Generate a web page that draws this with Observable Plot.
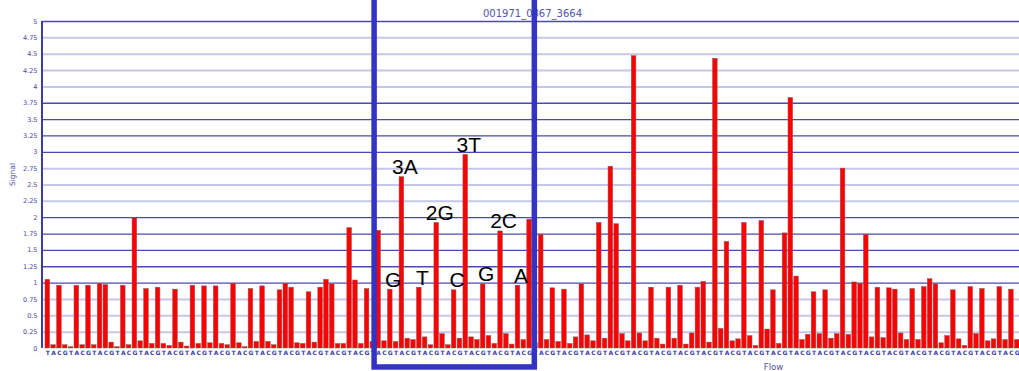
<!DOCTYPE html>
<html>
<head>
<meta charset="utf-8">
<script src="https://cdn.jsdelivr.net/npm/d3@7"></script>
<script src="https://cdn.jsdelivr.net/npm/@observablehq/plot@0.6"></script>
<style>
  html, body { margin: 0; padding: 0; background: #fff; overflow: hidden; }
</style>
</head>
<body>
<div id="chart"></div>
<script>
// Flowgram of one pyrosequencing read: one bar per nucleotide flow.
const readId = "001971_0867_3664";
const flowOrder = ["T", "A", "C", "G"];

// Signal per flow, flows 1..168
const signal = [
  1.05, 0.05, 0.96, 0.05, 0.02, 0.96, 0.05, 0.96, 0.05, 0.99, 0.97, 0.09,
  0.02, 0.96, 0.05, 1.99, 0.11, 0.91, 0.07, 0.93, 0.07, 0.04, 0.90, 0.09,
  0.03, 0.96, 0.07, 0.95, 0.08, 0.95, 0.07, 0.05, 0.99, 0.08, 0.02, 0.91,
  0.10, 0.95, 0.10, 0.05, 0.89, 0.99, 0.93, 0.08, 0.07, 0.86, 0.09, 0.93,
  1.05, 0.98, 0.07, 0.07, 1.84, 1.04, 0.07, 0.91, 0.10, 1.80, 0.11, 0.90,
  0.10, 2.62, 0.15, 0.13, 0.93, 0.17, 0.05, 1.92, 0.22, 0.05, 0.89, 0.15,
  2.96, 0.17, 0.13, 0.98, 0.19, 0.07, 1.79, 0.22, 0.06, 0.96, 0.13, 1.97,
  0.08, 1.74, 0.13, 0.92, 0.10, 0.90, 0.07, 0.17, 0.98, 0.20, 0.11, 1.92,
  0.15, 2.78, 1.90, 0.22, 0.11, 4.47, 0.23, 0.11, 0.93, 0.15, 0.06, 0.93,
  0.15, 0.96, 0.06, 0.23, 0.93, 1.02, 0.09, 4.43, 0.30, 1.63, 0.11, 0.14,
  1.92, 0.19, 0.04, 1.95, 0.29, 0.89, 0.07, 1.76, 3.83, 1.10, 0.13, 0.21,
  0.86, 0.22, 0.89, 0.15, 0.22, 2.75, 0.21, 1.01, 0.99, 1.74, 0.17, 0.93,
  0.16, 0.92, 0.90, 0.23, 0.13, 0.91, 0.13, 0.94, 1.06, 0.98, 0.08, 0.19,
  0.89, 0.14, 0.04, 0.94, 0.22, 0.91, 0.11, 0.14, 0.94, 0.13, 0.90, 0.13
];

// Y-axis tick values and the two grid-line groups
const yTicks = [0, 0.25, 0.5, 0.75, 1, 1.25, 1.5, 1.75, 2, 2.25, 2.5, 2.75,
                3, 3.25, 3.5, 3.75, 4, 4.25, 4.5, 4.75, 5];
const gridStrong = [1, 1.25, 1.5, 1.75, 2, 3, 3.25, 3.5, 3.75, 5];
const gridFaint = [0.25, 0.5, 0.75, 2.25, 2.5, 2.75, 4, 4.25, 4.5, 4.75];

// Base calls written above the flows of the highlighted window
const calledFlows = [60, 62, 65, 68, 71, 73, 76, 79, 82];
const calledLabels = ["G", "3A", "T", "2G", "C", "3T", "G", "2C", "A"];

// Highlighted window of flows
const windowFlows = [57.3, 84.9];

const flows = signal.map((v, i) => ({flow: i + 1, base: flowOrder[i % 4], signal: v}));
const calls = calledFlows.map((f, i) => ({flow: f, label: calledLabels[i], signal: signal[f - 1]}));

const chart = Plot.plot({
  width: 1019,
  height: 371,
  marginLeft: 42,
  marginRight: 0,
  marginTop: 21,
  marginBottom: 23,
  x: {domain: [0.5, 168.5], range: [44.4, 1019.6]},
  y: {domain: [0, 5], range: [348, 21]},
  style: {fontFamily: "DejaVu Sans, sans-serif", background: "#fff", overflow: "visible"},
  marks: [
    Plot.ruleY(gridFaint, {stroke: "#c6c6ea", strokeWidth: 2}),
    Plot.ruleY(gridStrong, {stroke: "#4a4ab2", strokeWidth: 1.3}),
    Plot.ruleX([0], {y1: 0, y2: 5, stroke: "#3c3ca4", strokeWidth: 2}),
    Plot.rectY(flows, {
      x1: d => d.flow - 0.4,
      x2: d => d.flow + 0.4,
      y: "signal",
      fill: "#ff0000",
      stroke: "#8c5a5a",
      strokeWidth: 0.5
    }),
    Plot.axisY({
      ticks: yTicks,
      tickFormat: d => String(d),
      tickSize: 0,
      tickPadding: 5,
      fontSize: 6.5,
      color: "#4848a8",
      label: null
    }),
    Plot.axisX({
      ticks: flows.map(d => d.flow),
      tickFormat: f => flowOrder[(f - 1) % 4],
      tickSize: 0,
      tickPadding: 2,
      fontSize: 6,
      fontWeight: "bold",
      color: "#3a3aa8",
      label: null
    }),
    Plot.text([readId], {
      frameAnchor: "top", lineAnchor: "bottom", dx: 1.5, dy: -5,
      text: d => d, fontSize: 10, fill: "#5454a6"
    }),
    Plot.text(["Signal"], {
      frameAnchor: "left", rotate: -90, dx: -29.5, dy: 1,
      text: d => d, fontSize: 7.5, fill: "#5050a0"
    }),
    Plot.text(["Flow"], {
      frameAnchor: "bottom", lineAnchor: "bottom", dx: 242.5, dy: 21,
      text: d => d, fontSize: 8.5, fill: "#5050a0"
    }),
    Plot.text(calls, {
      x: "flow", y: "signal", text: "label",
      lineAnchor: "bottom", dx: 3, dy: -3,
      fontSize: 21, fontFamily: "Liberation Sans, Arial, sans-serif", fill: "#000"
    }),
    Plot.rect([windowFlows], {
      x1: d => d[0], x2: d => d[1], y1: -0.29, y2: 5.45,
      fill: "none", stroke: "#3434c4", strokeWidth: 5.5
    })
  ]
});

document.getElementById("chart").appendChild(chart);
</script>
</body>
</html>
